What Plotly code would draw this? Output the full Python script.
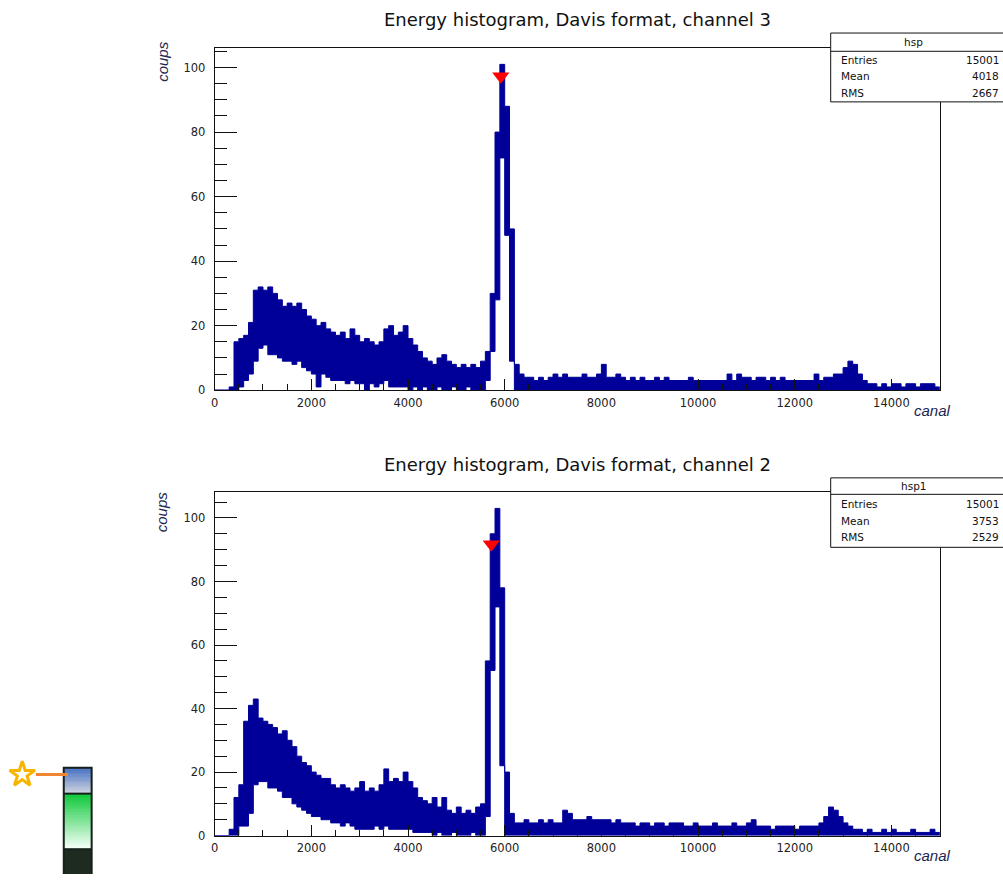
import plotly.graph_objects as go

# ---------------------------------------------------------------------------
# Spectra: each drawn column merges GROUP_WIDTH channels; for every column the
# highest (hi) and lowest (lo) bin content reached inside it is kept, so the
# bin-to-bin fluctuation shows up as a filled band.
# ---------------------------------------------------------------------------
GROUP_WIDTH = 100
X_MAX = 15000

# channel 3 (histogram "hsp")
ch3_hi = [
    0, 0, 0, 1, 15, 16, 17, 21, 31, 32,
    31, 32, 30, 28, 26, 27, 26, 27, 25, 23,
    22, 20, 21, 19, 18, 17, 18, 16, 19, 17,
    15, 16, 15, 14, 15, 19, 20, 17, 18, 20,
    16, 14, 12, 10, 9, 8, 10, 11, 9, 8,
    7, 8, 7, 8, 7, 9, 12, 30, 80, 101,
    88, 50, 8, 5, 4, 4, 3, 4, 3, 4,
    5, 4, 5, 4, 4, 4, 5, 4, 4, 5,
    8, 4, 4, 5, 4, 3, 4, 3, 4, 3,
    3, 4, 3, 4, 3, 3, 3, 3, 4, 3,
    3, 3, 3, 3, 3, 3, 5, 3, 5, 4,
    4, 3, 4, 4, 3, 4, 3, 4, 3, 3,
    3, 3, 3, 3, 5, 3, 4, 4, 5, 5,
    7, 9, 8, 5, 3, 2, 2, 1, 2, 1,
    2, 2, 1, 2, 2, 1, 2, 2, 2, 1,
]
ch3_lo = [
    0, 0, 0, 0, 0, 1, 3, 5, 9, 13,
    14, 11, 11, 10, 9, 9, 8, 9, 7, 6,
    5, 1, 5, 4, 3, 3, 3, 2, 3, 2,
    2, 0, 2, 1, 2, 3, 1, 1, 1, 1,
    0, 1, 0, 1, 0, 0, 1, 0, 0, 1,
    0, 0, 1, 0, 0, 0, 3, 12, 28, 72,
    48, 9, 0, 0, 0, 0, 0, 0, 0, 0,
    0, 0, 0, 0, 0, 0, 0, 0, 0, 0,
    0, 0, 0, 0, 0, 0, 0, 0, 0, 0,
    0, 0, 0, 0, 0, 0, 0, 0, 0, 0,
    0, 0, 0, 0, 0, 0, 0, 0, 0, 0,
    0, 0, 0, 0, 0, 0, 0, 0, 0, 0,
    0, 0, 0, 0, 0, 0, 0, 0, 0, 0,
    0, 0, 0, 0, 0, 0, 0, 0, 0, 0,
    0, 0, 0, 0, 0, 0, 0, 0, 0, 0,
]

# channel 2 (histogram "hsp1")
ch2_hi = [
    0, 0, 0, 2, 12, 16, 36, 41, 43, 37,
    36, 35, 34, 32, 33, 30, 28, 25, 23, 22,
    20, 19, 18, 18, 16, 15, 16, 15, 14, 15,
    17, 14, 15, 14, 16, 21, 17, 18, 17, 20,
    17, 15, 12, 11, 10, 12, 9, 12, 8, 7,
    9, 7, 8, 7, 9, 10, 55, 95, 103, 78,
    20, 7, 4, 4, 5, 4, 4, 5, 4, 5,
    4, 4, 8, 7, 5, 5, 5, 6, 5, 5,
    5, 5, 4, 5, 4, 4, 4, 3, 4, 4,
    3, 4, 4, 3, 4, 4, 4, 3, 3, 4,
    3, 3, 3, 4, 3, 3, 3, 4, 3, 3,
    4, 5, 3, 3, 3, 2, 3, 3, 3, 3,
    2, 3, 3, 3, 3, 4, 6, 9, 8, 6,
    4, 3, 2, 2, 1, 2, 1, 1, 2, 1,
    2, 1, 1, 1, 2, 1, 1, 1, 2, 1,
]
ch2_lo = [
    0, 0, 0, 0, 0, 3, 3, 7, 16, 17,
    17, 15, 15, 14, 12, 12, 10, 9, 8, 7,
    6, 6, 5, 5, 4, 4, 3, 4, 3, 2,
    2, 2, 2, 3, 2, 3, 2, 2, 2, 2,
    2, 1, 1, 1, 1, 0, 1, 0, 0, 1,
    0, 0, 0, 1, 0, 0, 6, 52, 72, 22,
    0, 0, 0, 0, 0, 0, 0, 0, 0, 0,
    0, 0, 0, 0, 0, 0, 0, 0, 0, 0,
    0, 0, 0, 0, 0, 0, 0, 0, 0, 0,
    0, 0, 0, 0, 0, 0, 0, 0, 0, 0,
    0, 0, 0, 0, 0, 0, 0, 0, 0, 0,
    0, 0, 0, 0, 0, 0, 0, 0, 0, 0,
    0, 0, 0, 0, 0, 0, 0, 0, 0, 0,
    0, 0, 0, 0, 0, 0, 0, 0, 0, 0,
    0, 0, 0, 0, 0, 0, 0, 0, 0, 0,
]

# peaks found by the peak search (position in channels, marker height)
ch3_peak_x = [5920]
ch3_peak_y = [97.3]
ch2_peak_x = [5723]
ch2_peak_y = [91.7]

# statistics boxes
stat_names = ["Entries", "Mean", "RMS"]
ch3_stats = ["15001", "4018", "2667"]
ch2_stats = ["15001", "3753", "2529"]

titles = ["Energy histogram, Davis format, channel 3",
          "Energy histogram, Davis format, channel 2"]
hist_names = ["hsp", "hsp1"]
x_ticks = list(range(0, 14001, 2000))
y_ticks = list(range(0, 101, 20))

# ---------------------------------------------------------------------------
W, H = 1003, 881
NAVY = "#000099"
TICK_FONT = dict(family="DejaVu Sans", size=11.5, color="#222222")
LABEL_FONT = dict(family="Liberation Sans", size=15, color="#1b2550", style="italic")


def px(x):
    return x / W


def py(y):
    return 1 - y / H


def note(text, x, y, font, xanchor="center", **kw):
    return dict(text=text, x=px(x), y=py(y), xref="paper", yref="paper",
                xanchor=xanchor, yanchor="middle", showarrow=False, font=font, **kw)


def band_outline(hi, lo, width):
    """Closed step outline: along the upper values left to right, back along
    the lower values right to left."""
    xs, ys = [], []
    for i, v in enumerate(hi):
        xs += [i * width, (i + 1) * width]
        ys += [v, v]
    for i in reversed(range(len(lo))):
        xs += [(i + 1) * width, i * width]
        ys += [lo[i], lo[i]]
    return xs, ys


fig = go.Figure()

panels = [
    dict(hi=ch3_hi, lo=ch3_lo, pk_x=ch3_peak_x, pk_y=ch3_peak_y,
         xa="x", ya="y", top=48.3, bottom=393.3, ymax=106.1,
         stats=ch3_stats, box=(33.3, 51.7, 102.7), rows=(42.5, 60, 77, 94),
         title_y=20, coups_y=62, canal_y=414),
    dict(hi=ch2_hi, lo=ch2_lo, pk_x=ch2_peak_x, pk_y=ch2_peak_y,
         xa="x2", ya="y2", top=496.0, bottom=842.3, ymax=108.15,
         stats=ch2_stats, box=(481.7, 498.3, 551.7), rows=(490, 508.3, 525, 541.7),
         title_y=468, coups_y=516, canal_y=862),
]

shapes = []
annotations = []
axis_common = dict(showgrid=False, zeroline=False, showline=True, mirror=True,
                   linecolor="#111111", linewidth=1, ticks="inside",
                   tickcolor="#111111", tickwidth=1, tickfont=TICK_FONT)

for k, p in enumerate(panels):
    bx, by = band_outline(p["hi"], p["lo"], GROUP_WIDTH)
    fig.add_trace(go.Scatter(
        x=bx, y=by, mode="lines", fill="toself", fillcolor=NAVY,
        line=dict(color=NAVY, width=1),
        xaxis=p["xa"], yaxis=p["ya"], hoverinfo="skip"))
    fig.add_trace(go.Scatter(
        x=p["pk_x"], y=p["pk_y"], mode="markers", cliponaxis=False,
        marker=dict(symbol="triangle-down", size=15, color="#ff0000"),
        xaxis=p["xa"], yaxis=p["ya"], hoverinfo="skip"))

    xname = "xaxis" if k == 0 else "xaxis2"
    yname = "yaxis" if k == 0 else "yaxis2"
    fig.update_layout(**{
        xname: dict(axis_common, domain=[px(211.5), px(939.5)], range=[0, X_MAX],
                    anchor=p["ya"], tickvals=x_ticks,
                    ticktext=[str(v) for v in x_ticks], ticklen=11,
                    ticklabelstandoff=2,
                    minor=dict(dtick=500, ticklen=6, ticks="inside",
                               tickcolor="#111111")),
        yname: dict(axis_common, domain=[py(p["bottom"]), py(p["top"])],
                    range=[0, p["ymax"]], anchor=p["xa"], tickvals=y_ticks,
                    ticktext=[str(v) for v in y_ticks], ticklen=22,
                    ticklabelstandoff=6,
                    minor=dict(dtick=5, ticklen=12, ticks="inside",
                               tickcolor="#111111")),
    })

    # title and axis labels
    annotations.append(note(titles[k], 576, p["title_y"],
                            dict(family="DejaVu Sans", size=18, color="#111111")))
    annotations.append(note("coups", 159, p["coups_y"], LABEL_FONT, textangle=-90))
    annotations.append(note("canal", 932, p["canal_y"], LABEL_FONT))

    # statistics box
    b_top, b_sep, b_bot = p["box"]
    shapes.append(dict(type="rect", xref="paper", yref="paper", layer="above",
                       x0=px(830), x1=px(1010), y0=py(b_bot), y1=py(b_top),
                       fillcolor="white", line=dict(color="#111111", width=1)))
    shapes.append(dict(type="line", xref="paper", yref="paper", layer="above",
                       x0=px(830), x1=px(1010), y0=py(b_sep), y1=py(b_sep),
                       line=dict(color="#111111", width=1)))
    stat_font = dict(family="DejaVu Sans", size=10.5, color="#111111")
    annotations.append(note(hist_names[k], 913, p["rows"][0], stat_font))
    for name, val, row in zip(stat_names, p["stats"], p["rows"][1:]):
        annotations.append(note(name, 838, row, stat_font, xanchor="left"))
        annotations.append(note(val, 1001, row, stat_font, xanchor="right"))

# ---------------------------------------------------------------------------
# small level gauge in the lower-left corner (drawn on a pixel-scaled overlay)
# ---------------------------------------------------------------------------
def mix(c1, c2, t):
    return "rgb(%d,%d,%d)" % tuple(round(a + (b - a) * t) for a, b in zip(c1, c2))


def gradient(y0, y1, c_top, c_bot, steps):
    h = (y1 - y0) / steps
    for i in range(steps):
        shapes.append(dict(type="rect", xref="x3", yref="y3", layer="above",
                           x0=60, x1=88, y0=y0 + i * h, y1=y0 + (i + 1) * h + 0.6,
                           fillcolor=mix(c_top, c_bot, i / (steps - 1)),
                           line=dict(width=0)))


gradient(774, 800, (72, 114, 196), (206, 210, 222), 20)
gradient(800, 856, (14, 200, 58), (246, 255, 248), 36)
shapes.append(dict(type="rect", xref="x3", yref="y3", layer="above",
                   x0=60, x1=88, y0=856, y1=890, fillcolor="#1d2b20",
                   line=dict(width=0)))
for y_sep in (800, 856):
    shapes.append(dict(type="line", xref="x3", yref="y3", layer="above",
                       x0=60, x1=88, y0=y_sep, y1=y_sep,
                       line=dict(color="#16201a", width=2)))
shapes.append(dict(type="rect", xref="x3", yref="y3", layer="above",
                   x0=60, x1=88, y0=774, y1=890,
                   line=dict(color="#16201a", width=2)))
shapes.append(dict(type="line", xref="x3", yref="y3", layer="above",
                   x0=32, x1=64, y0=780.7, y1=780.7,
                   line=dict(color="#f08634", width=3)))
fig.add_trace(go.Scatter(
    x=[18.3], y=[780.7], mode="markers", xaxis="x3", yaxis="y3",
    marker=dict(symbol="star-open", size=19, color="#f7b500",
                line=dict(width=3, color="#f7b500")),
    hoverinfo="skip", cliponaxis=False))

fig.update_layout(
    width=W, height=H, margin=dict(l=0, r=0, t=0, b=0),
    paper_bgcolor="white", plot_bgcolor="rgba(0,0,0,0)", showlegend=False,
    xaxis3=dict(domain=[0, 1], range=[0, W], visible=False, anchor="y3",
                fixedrange=True),
    yaxis3=dict(domain=[0, 1], range=[H, 0], visible=False, anchor="x3",
                fixedrange=True),
    shapes=shapes, annotations=annotations,
)

fig.write_html("out.html")
